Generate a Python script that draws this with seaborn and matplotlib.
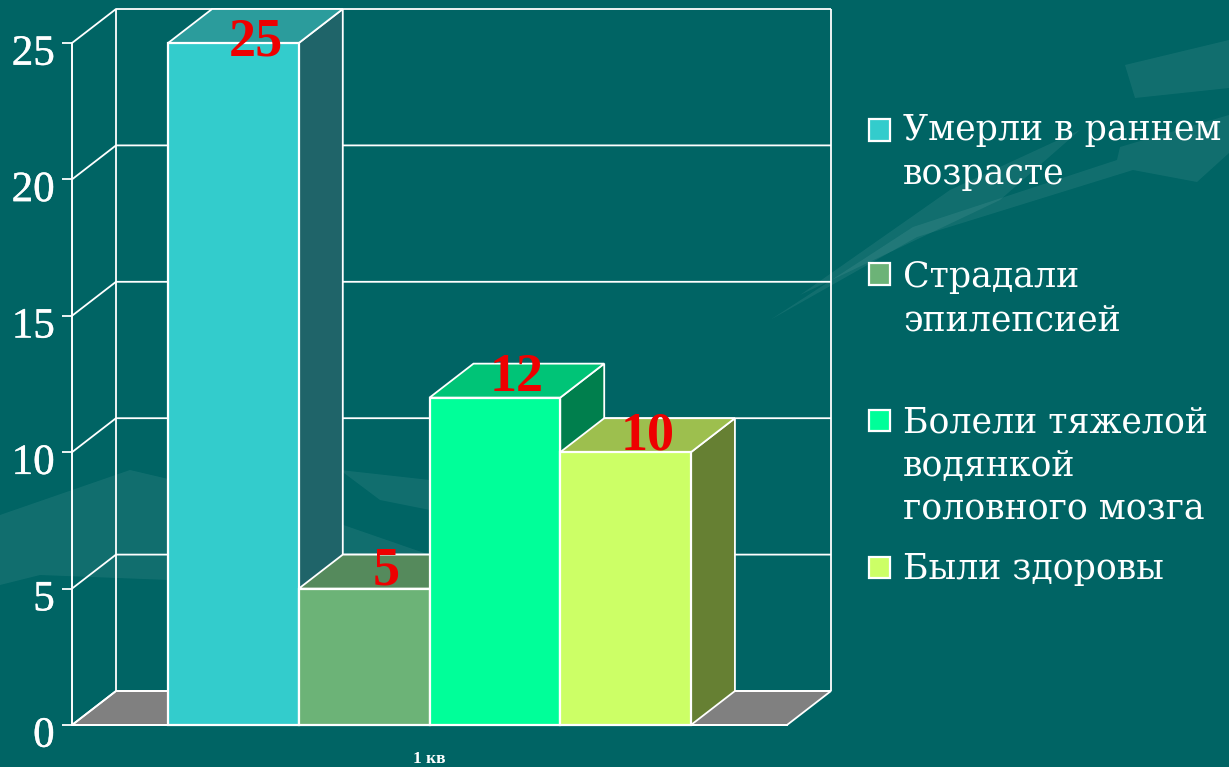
import matplotlib
matplotlib.use("Agg")
import matplotlib.pyplot as plt
import matplotlib.patheffects as pe
from matplotlib.patches import Polygon, Rectangle
from matplotlib.transforms import ScaledTranslation
import pandas as pd
import seaborn as sns

series = ["Умерли в раннем\nвозрасте", "Страдали\nэпилепсией",
          "Болели тяжелой\nводянкой\nголовного мозга", "Были здоровы"]
values = [25, 5, 12, 10]
quarter = ["1 кв"] * 4
yticks = [0, 5, 10, 15, 20, 25]

front_colors = ["#33CCCC", "#6CB377", "#00FF99", "#CCFF66"]
top_colors = ["#2B9C9C", "#558A5C", "#00C477", "#9DBF4E"]
side_colors = ["#1F6469", "#1F6469", "#007F4D", "#668033"]
label_lift = [0.25, 0.85, 0.95, 0.8]
legend_box_y = [130, 274, 420, 567]
legend_text_y = [152, 299, 466, 569]

BG = "#006464"
W, H = 1229, 767
DEPTH_X = 44 / 653.5
DEPTH_Y = 34 / 27.28

sns.set_theme(style="white")
plt.rcParams["font.family"] = ["Liberation Serif", "DejaVu Serif"]

fig = plt.figure(figsize=(W / 100, H / 100), dpi=100, facecolor=BG)
ax = fig.add_axes([72 / W, 1 - 725 / H, 715 / W, 682 / H])
ax.patch.set_alpha(0)

# faint swooshes of the slide background, in pixels
swooshes = [
    [(1125, 65), (1229, 40), (1229, 88), (1135, 98)],
    [(770, 320), (913, 227), (1117, 160), (1120, 147), (1229, 115), (1229, 153),
     (1197, 182), (1133, 170), (917, 237)],
    [(800, 295), (950, 190), (1080, 130), (1000, 200)],
    [(0, 515), (130, 470), (300, 510), (430, 555), (170, 580), (40, 575), (0, 585)],
    [(340, 470), (430, 480), (430, 510), (380, 500)],
]
for pts in swooshes:
    fig.add_artist(Polygon([(x / W, 1 - y / H) for x, y in pts], closed=True,
                           fc="white", ec="none", alpha=0.07, zorder=-5))

df = pd.DataFrame({"quarter": quarter, "series": series, "value": values})
sns.barplot(data=df, x="quarter", y="value", hue="series", palette=front_colors,
            width=0.8, gap=0, saturation=1, legend=False, ax=ax,
            edgecolor="white", linewidth=1.6, zorder=5)
ax.set_xlim(-0.547, 0.547)
ax.set_ylim(0, 25)
ax.set_xlabel("")
ax.set_ylabel("")

bars = sorted(ax.patches, key=lambda p: p.get_x())

xl, xr = ax.get_xlim()
line = dict(color="white", lw=1.3, clip_on=False, solid_capstyle="butt")

# floor
ax.add_patch(Polygon([(xl, 0), (xl + DEPTH_X, DEPTH_Y), (xr + DEPTH_X, DEPTH_Y), (xr, 0)],
                     closed=True, fc="#808080", ec="white", lw=1.3, clip_on=False, zorder=1))

# walls
for v in yticks:
    ax.plot([xl, xl + DEPTH_X, xr + DEPTH_X], [v, v + DEPTH_Y, v + DEPTH_Y], zorder=2, **line)
ax.plot([xl + DEPTH_X] * 2, [DEPTH_Y, 25 + DEPTH_Y], zorder=2, **line)
ax.plot([xr + DEPTH_X] * 2, [DEPTH_Y, 25 + DEPTH_Y], zorder=2, **line)

# bar faces go left to right so each one covers the side of the one before
for i, b in enumerate(bars):
    x0, x1, h = b.get_x(), b.get_x() + b.get_width(), b.get_height()
    z = 5 + i
    ax.add_patch(Polygon([(x1, 0), (x1 + DEPTH_X, DEPTH_Y), (x1 + DEPTH_X, h + DEPTH_Y), (x1, h)],
                         closed=True, fc=side_colors[i], ec="white", lw=1.3,
                         clip_on=False, zorder=z))
    ax.add_patch(Polygon([(x0, h), (x0 + DEPTH_X, h + DEPTH_Y), (x1 + DEPTH_X, h + DEPTH_Y), (x1, h)],
                         closed=True, fc=top_colors[i], ec="white", lw=1.3,
                         clip_on=False, zorder=z))
    b.set_zorder(z + 0.5)
    b.set_clip_on(False)
    ax.text((x0 + x1 + DEPTH_X) / 2, h + label_lift[i], str(values[i]), color="#EE0000",
            fontsize=39, fontweight="bold", ha="center", va="center_baseline", zorder=20)

# axes
sns.despine(ax=ax, top=True, right=True)
for s in ["left", "bottom"]:
    ax.spines[s].set_color("white")
    ax.spines[s].set_linewidth(1.4)
    ax.spines[s].set_zorder(3)
ax.set_yticks(yticks)
ax.tick_params(axis="y", left=True, length=7.5, width=1.3, color="white", pad=5,
               labelcolor="white", labelsize=31)
ax.tick_params(axis="x", bottom=False, pad=13, labelcolor="white", labelsize=12.5)
for lab in ax.get_xticklabels():
    lab.set_fontweight("bold")
for lab in ax.get_yticklabels():
    lab.set_transform(lab.get_transform() + ScaledTranslation(0, -5 / 72, fig.dpi_scale_trans))
    lab.set_path_effects([pe.withStroke(linewidth=0.3, foreground="white")])

# legend, placed by hand beside the chart
for name, color, by, ty in zip(series, front_colors, legend_box_y, legend_text_y):
    fig.add_artist(Rectangle((869 / W, 1 - (by + 10.5) / H), 21 / W, 21 / H, fc=color,
                             ec="white", lw=1.6, transform=fig.transFigure))
    fig.text(903 / W, 1 - ty / H, name, color="white", fontsize=25, ha="left",
             va="center", linespacing=1.35, family="DejaVu Serif")

fig.savefig("out.png", dpi=100, facecolor=BG)
